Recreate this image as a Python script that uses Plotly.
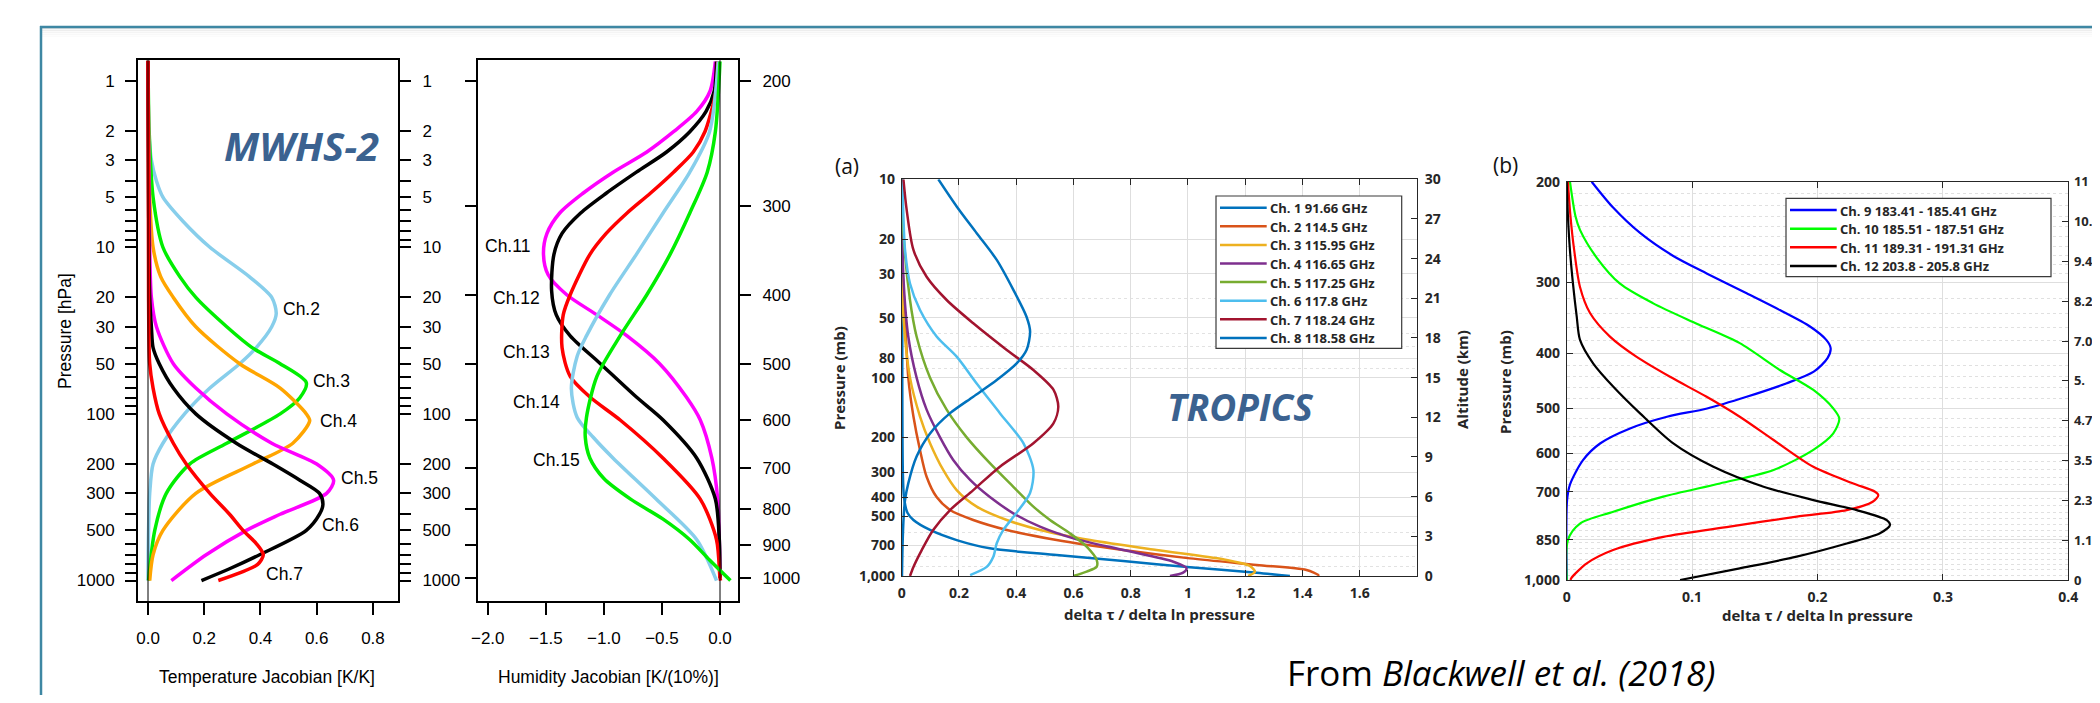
import math
import plotly.graph_objects as go

# Page geometry: the browser body keeps its default 8 px margin, so the figure
# is sized to fill the 2100x703 window exactly inside that margin.
OFF = 8
W, H = 2100 - 2 * OFF, 703 - 2 * OFF
def fx(px): return (px - OFF) / W
def fy(py): return 1 - (py - OFF) / H

# ---------------- DATA ----------------
# MWHS-2 temperature Jacobians (pressure hPa, K/K)
t_ch2_p = [0.76, 2, 3, 4, 5, 7, 10, 15, 20, 25, 30, 40, 50, 70, 100, 150, 200, 300, 500, 1000]
t_ch2_v = [0.0, 0.003, 0.012, 0.03, 0.053, 0.125, 0.22, 0.36, 0.44, 0.456, 0.44, 0.385, 0.326, 0.22, 0.13, 0.053, 0.018, 0.006, 0.002, 0.0]
t_ch3_p = [0.76, 2, 5, 10, 15, 20, 30, 40, 50, 65, 80, 100, 150, 200, 300, 500, 1000]
t_ch3_v = [0.0, 0.004, 0.018, 0.053, 0.113, 0.17, 0.28, 0.37, 0.47, 0.563, 0.54, 0.47, 0.28, 0.148, 0.065, 0.024, 0.002]
t_ch4_p = [0.76, 5, 10, 15, 20, 30, 50, 70, 100, 110, 150, 200, 300, 500, 700, 1000]
t_ch4_v = [0.0, 0.006, 0.018, 0.045, 0.09, 0.17, 0.326, 0.47, 0.563, 0.575, 0.515, 0.373, 0.17, 0.053, 0.018, 0.006]
t_ch5_p = [0.76, 10, 20, 30, 50, 70, 100, 150, 200, 250, 300, 400, 500, 700, 1000]
t_ch5_v = [0.0, 0.006, 0.012, 0.03, 0.09, 0.17, 0.28, 0.44, 0.6, 0.66, 0.635, 0.47, 0.35, 0.207, 0.083]
t_ch6_p = [0.76, 20, 30, 40, 50, 70, 100, 150, 200, 250, 300, 350, 400, 500, 700, 850, 1000]
t_ch6_v = [0.0, 0.006, 0.012, 0.018, 0.04, 0.09, 0.17, 0.314, 0.444, 0.54, 0.61, 0.622, 0.61, 0.563, 0.397, 0.29, 0.19]
t_ch7_p = [0.76, 20, 50, 70, 100, 150, 200, 300, 400, 500, 600, 700, 800, 900, 1000]
t_ch7_v = [0.0, 0.002, 0.006, 0.018, 0.04, 0.09, 0.136, 0.22, 0.29, 0.338, 0.385, 0.41, 0.39, 0.326, 0.25]

# MWHS-2 humidity Jacobians (pressure hPa, K/(10%))
h_ch11_p = [188, 207, 221, 236, 252, 269, 288, 307, 328, 351, 375, 400, 427, 457, 500, 557, 600, 679, 775, 884, 1000]
h_ch11_v = [-0.04, -0.086, -0.2, -0.4, -0.63, -0.92, -1.18, -1.38, -1.49, -1.52, -1.48, -1.32, -1.06, -0.8, -0.52, -0.29, -0.17, -0.07, -0.02, -0.006, 0.0]
h_ch12_p = [188, 207, 221, 236, 252, 269, 288, 307, 328, 351, 395, 427, 457, 500, 557, 600, 679, 775, 884, 1000]
h_ch12_v = [-0.03, -0.05, -0.12, -0.26, -0.46, -0.72, -0.98, -1.2, -1.36, -1.43, -1.45, -1.41, -1.29, -1.03, -0.72, -0.49, -0.2, -0.04, -0.006, 0.0]
h_ch13_p = [188, 207, 236, 252, 269, 288, 307, 328, 351, 400, 427, 475, 521, 557, 600, 679, 775, 884, 1000, 1009]
h_ch13_v = [-0.02, -0.035, -0.13, -0.23, -0.4, -0.6, -0.8, -0.98, -1.12, -1.29, -1.35, -1.36, -1.29, -1.12, -0.86, -0.49, -0.17, -0.03, 0.0, 0.005]
h_ch14_p = [188, 236, 269, 307, 351, 400, 457, 488, 542, 595, 635, 679, 775, 884, 1009]
h_ch14_v = [-0.015, -0.09, -0.26, -0.49, -0.72, -0.95, -1.15, -1.23, -1.28, -1.23, -1.09, -0.92, -0.55, -0.2, -0.03]
h_ch15_p = [188, 236, 269, 307, 351, 400, 457, 521, 595, 635, 679, 725, 775, 827, 884, 944, 1009]
h_ch15_v = [0.0, -0.04, -0.11, -0.26, -0.43, -0.63, -0.86, -1.06, -1.15, -1.16, -1.12, -1.0, -0.77, -0.49, -0.26, -0.09, 0.09]

# TROPICS (a) weighting functions (pressure mb, delta tau / delta ln p)
a_names = ["Ch. 1 91.66 GHz", "Ch. 2 114.5 GHz", "Ch. 3 115.95 GHz", "Ch. 4 116.65 GHz",
           "Ch. 5 117.25 GHz", "Ch. 6 117.8 GHz", "Ch. 7 118.24 GHz", "Ch. 8 118.58 GHz"]
a1_p = [10, 100, 300, 400, 480, 522, 586, 659, 725, 784, 840, 904, 962, 1000]
a1_v = [0.002, 0.002, 0.004, 0.008, 0.02, 0.041, 0.099, 0.192, 0.308, 0.541, 0.774, 1.007, 1.24, 1.356]
a2_p = [10, 30, 49, 100, 157, 232, 316, 400, 465, 522, 586, 659, 740, 815, 880, 933, 989, 1000]
a2_v = [0.0, 0.004, 0.0116, 0.023, 0.041, 0.064, 0.087, 0.122, 0.169, 0.25, 0.367, 0.541, 0.774, 1.007, 1.24, 1.414, 1.455, 1.455]
a3_p = [10, 30, 49, 100, 157, 214, 292, 369, 447, 522, 586, 659, 740, 824, 890, 950, 1000]
a3_v = [0.0, 0.003, 0.006, 0.029, 0.064, 0.099, 0.145, 0.192, 0.262, 0.367, 0.483, 0.658, 0.89, 1.123, 1.216, 1.234, 1.21]
a4_p = [10, 31, 62, 100, 145, 200, 260, 328, 400, 483, 564, 646, 740, 847, 915, 962, 1000]
a4_v = [0.0, 0.006, 0.023, 0.052, 0.087, 0.134, 0.18, 0.239, 0.308, 0.39, 0.483, 0.6, 0.774, 0.949, 0.995, 0.983, 0.937]
a5_p = [10, 18.7, 40.6, 62, 100, 145, 200, 270, 355, 447, 522, 610, 711, 830, 898, 950, 1000]
a5_v = [0.0, 0.006, 0.029, 0.052, 0.099, 0.157, 0.227, 0.308, 0.39, 0.46, 0.518, 0.588, 0.646, 0.681, 0.681, 0.646, 0.6]
a6_p = [10, 15.4, 22.7, 33.5, 45.6, 62, 78.4, 107, 151, 214, 292, 383, 483, 586, 684, 800, 900, 989]
a6_v = [0.002, 0.006, 0.0116, 0.029, 0.064, 0.122, 0.192, 0.262, 0.343, 0.425, 0.46, 0.448, 0.4, 0.355, 0.332, 0.32, 0.297, 0.239]
a7_p = [10, 14.3, 22.7, 31, 40.6, 53.2, 72.5, 91.5, 115, 140, 170, 214, 281, 369, 465, 586, 740, 900, 1000]
a7_v = [0.006, 0.0175, 0.041, 0.087, 0.157, 0.25, 0.367, 0.46, 0.53, 0.547, 0.53, 0.46, 0.343, 0.25, 0.169, 0.11, 0.07, 0.041, 0.029]
a8_p = [10, 13.7, 18.7, 25.5, 36.1, 49.3, 58.6, 72.5, 84.7, 102.8, 124.7, 151, 191, 250, 341, 414, 500, 700, 1000]
a8_v = [0.128, 0.192, 0.262, 0.332, 0.39, 0.436, 0.4485, 0.436, 0.4016, 0.332, 0.25, 0.169, 0.099, 0.052, 0.023, 0.0116, 0.007, 0.003, 0.001]

# TROPICS (b) weighting functions
b_names = ["Ch. 9 183.41 - 185.41 GHz", "Ch. 10 185.51 - 187.51 GHz",
           "Ch. 11 189.31 - 191.31 GHz", "Ch. 12 203.8 - 205.8 GHz"]
b9_p = [200, 222, 246, 270, 290, 314, 336, 359, 379, 392, 408, 431, 452, 477, 500, 517, 542, 576, 616, 680, 724, 1000]
b9_v = [0.0199, 0.037, 0.0585, 0.085, 0.112, 0.1435, 0.170, 0.194, 0.207, 0.2105, 0.208, 0.197, 0.175, 0.1435, 0.112, 0.08, 0.0505, 0.0266, 0.013, 0.0026, 0.0003, 0.0]
b10_p = [200, 230, 243, 272, 302, 327, 355, 384, 428, 464, 500, 521, 553, 591, 641, 677, 714, 759, 796, 850, 1000]
b10_v = [0.0026, 0.007, 0.0106, 0.024, 0.0425, 0.069, 0.1037, 0.138, 0.170, 0.1967, 0.2126, 0.2174, 0.2126, 0.1967, 0.165, 0.1222, 0.077, 0.0372, 0.0106, 0.001, 0.0]
b11_p = [200, 230, 264, 306, 340, 374, 406, 440, 477, 517, 568, 633, 677, 700, 710, 729, 754, 774, 806, 840, 886, 935, 990, 1000]
b11_v = [0.001, 0.003, 0.006, 0.0106, 0.0186, 0.0345, 0.0558, 0.0824, 0.1116, 0.138, 0.165, 0.1967, 0.2285, 0.2459, 0.2485, 0.244, 0.2233, 0.1834, 0.130, 0.077, 0.037, 0.016, 0.004, 0.003]
b12_p = [200, 230, 264, 302, 345, 379, 417, 458, 510, 576, 633, 686, 724, 754, 785, 801, 828, 863, 910, 954, 1000]
b12_v = [0.0, 0.001, 0.0026, 0.005, 0.008, 0.0106, 0.0212, 0.0372, 0.0585, 0.085, 0.117, 0.157, 0.1967, 0.2313, 0.2552, 0.2578, 0.2498, 0.2233, 0.1834, 0.138, 0.0904]

# Tick definitions
mw_p_ticks = [m * 10 ** e for e in range(0, 3) for m in range(1, 10)] + [1000]
mw_p_labeled = [1, 2, 3, 5, 10, 20, 30, 50, 100, 200, 300, 500, 1000]
hum_p_ticks = [200, 300, 400, 500, 600, 700, 800, 900, 1000]
t_x_ticks = [0.0, 0.2, 0.4, 0.6, 0.8]
h_x_ticks = [-2.0, -1.5, -1.0, -0.5, 0.0]
a_p_ticks = [10, 20, 30, 50, 80, 100, 200, 300, 400, 500, 700, 1000]
a_p_minor = [40, 60, 70, 90, 600, 800, 900]
a_x_ticks = [0, 0.2, 0.4, 0.6, 0.8, 1.0, 1.2, 1.4, 1.6]
a_alt_ticks = [0, 3, 6, 9, 12, 15, 18, 21, 24, 27, 30]
b_p_ticks = [200, 300, 400, 500, 600, 700, 850, 1000]
b_p_minor = [210, 220, 230, 240, 250, 260, 270, 280, 290] + \
            [p for p in range(320, 1000, 20) if p not in b_p_ticks]
b_x_ticks = [0, 0.1, 0.2, 0.3, 0.4]
b_alt_ticks = [0, 1.175, 2.35, 3.525, 4.7, 5.875, 7.05, 8.225, 9.4, 10.575, 11.75]
# the reference shows these labels truncated at the page edge
b_alt_text = ["0", "1.1", "2.3", "3.5", "4.7", "5.", "7.0", "8.2", "9.4", "10.", "11"]

# ---------------- FIGURE ----------------
fig = go.Figure()

def add(xv, yv, color, width, xa, ya):
    fig.add_trace(go.Scatter(x=xv, y=yv, mode="lines",
                             line=dict(color=color, width=width, shape="spline", smoothing=0.8),
                             xaxis=xa, yaxis=ya, showlegend=False, hoverinfo="skip"))

for v, p, c in [(t_ch2_v, t_ch2_p, "#87CEEB"), (t_ch3_v, t_ch3_p, "#00EE00"),
                (t_ch4_v, t_ch4_p, "#FFA500"), (t_ch5_v, t_ch5_p, "#FF00FF"),
                (t_ch6_v, t_ch6_p, "#000000"), (t_ch7_v, t_ch7_p, "#FF0000")]:
    add(v, p, c, 3.5, "x", "y")
for v, p, c in [(h_ch11_v, h_ch11_p, "#FF00FF"), (h_ch12_v, h_ch12_p, "#000000"),
                (h_ch13_v, h_ch13_p, "#FF0000"), (h_ch14_v, h_ch14_p, "#87CEEB"),
                (h_ch15_v, h_ch15_p, "#00EE00")]:
    add(v, p, c, 3.5, "x2", "y3")
a_cols = ["#0072BD", "#D95319", "#EDB120", "#7E2F8E", "#77AC30", "#4DBEEE", "#A2142F", "#0072BD"]
a_data = [(a1_v, a1_p), (a2_v, a2_p), (a3_v, a3_p), (a4_v, a4_p),
          (a5_v, a5_p), (a6_v, a6_p), (a7_v, a7_p), (a8_v, a8_p)]
for (v, p), c in zip(a_data, a_cols):
    add(v, p, c, 2.5, "x3", "y5")
b_cols = ["#0000FF", "#00FF00", "#FF0000", "#000000"]
b_data = [(b9_v, b9_p), (b10_v, b10_p), (b11_v, b11_p), (b12_v, b12_p)]
for (v, p), c in zip(b_data, b_cols):
    add(v, p, c, 2.2, "x4", "y7")

for xa, ya in [("x", "y2"), ("x2", "y4"), ("x3", "y6"), ("x4", "y8")]:
    fig.add_trace(go.Scatter(x=[None], y=[None], xaxis=xa, yaxis=ya, showlegend=False, hoverinfo="skip"))

R_FONT = dict(family="Liberation Sans, Arial, sans-serif", size=17, color="black")
M_FONT = dict(family="Open Sans, sans-serif", size=14, color="#262626", weight="bold")

def r_axis(**kw):
    d = dict(showline=True, linecolor="black", linewidth=2, mirror=True, ticks="outside",
             ticklen=11, tickwidth=1.5, tickcolor="black", showgrid=False, zeroline=False,
             tickfont=R_FONT, automargin=False)
    d.update(kw)
    return d

def m_axis(**kw):
    d = dict(showline=True, linecolor="#262626", linewidth=1, ticks="inside", ticklen=6,
             tickwidth=1, tickcolor="#262626", showgrid=True, gridcolor="#DEDEDE", gridwidth=1,
             zeroline=False, tickfont=M_FONT, automargin=False)
    d.update(kw)
    return d

mw_text = [str(v) if v in mw_p_labeled else "" for v in mw_p_ticks]
t_dom_y = [fy(601), fy(60.2)]
t_range = [math.log10(1327), math.log10(0.754)]
h_range = [3.0326, 2.27235]

layout = dict(
    width=W, height=H, margin=dict(l=0, r=0, t=0, b=0, autoexpand=False),
    paper_bgcolor="white", plot_bgcolor="white", showlegend=False,
    xaxis=r_axis(domain=[fx(138), fx(398)], anchor="y", range=[-0.0356, 0.889],
                 tickmode="array", tickvals=t_x_ticks, ticktext=["%.1f" % v for v in t_x_ticks],
                 ticklen=12, ticklabelstandoff=9),
    yaxis=r_axis(domain=t_dom_y, anchor="x", type="log", range=t_range,
                 tickmode="array", tickvals=mw_p_ticks, ticktext=mw_text, ticklabelstandoff=7),
    yaxis2=r_axis(domain=t_dom_y, anchor="x", overlaying="y", side="right", type="log", range=t_range,
                  tickmode="array", tickvals=mw_p_ticks, ticktext=mw_text, ticklabelstandoff=8),
    xaxis2=r_axis(domain=[fx(478), fx(738)], anchor="y3", range=[-2.084, 0.155],
                  tickmode="array", tickvals=h_x_ticks,
                  ticktext=[("%.1f" % v).replace("-", "\u2212") for v in h_x_ticks],
                  ticklen=12, ticklabelstandoff=9),
    yaxis3=r_axis(domain=t_dom_y, anchor="x2", type="log", range=h_range,
                  tickmode="array", tickvals=hum_p_ticks, showticklabels=False),
    yaxis4=r_axis(domain=t_dom_y, anchor="x2", overlaying="y3", side="right", type="log", range=h_range,
                  tickmode="array", tickvals=hum_p_ticks, ticktext=[str(v) for v in hum_p_ticks],
                  ticklabelstandoff=8),
    xaxis3=m_axis(domain=[fx(901.7), fx(1417)], anchor="y5", range=[0, 1.8], mirror="ticks",
                  tickmode="array", tickvals=a_x_ticks,
                  ticktext=["0", "0.2", "0.4", "0.6", "0.8", "1", "1.2", "1.4", "1.6"],
                  ticklabelstandoff=4),
    yaxis5=m_axis(domain=[fy(576), fy(179.3)], anchor="x3", type="log", range=[3, 1], mirror=True,
                  tickmode="array", tickvals=a_p_ticks,
                  ticktext=[("{:,}".format(v)) for v in a_p_ticks],
                  minor=dict(tickmode="array", tickvals=a_p_minor, showgrid=True,
                             gridcolor="#E2E2E2", griddash="dot", ticks=""),
                  ticklabelstandoff=3),
    yaxis6=m_axis(domain=[fy(576), fy(179.3)], anchor="x3", overlaying="y5", side="right",
                  range=[0, 30], showgrid=False, tickmode="array", tickvals=a_alt_ticks,
                  ticktext=[str(v) for v in a_alt_ticks], ticklabelstandoff=4),
    xaxis4=m_axis(domain=[fx(1566.7), fx(2068.3)], anchor="y7", range=[0, 0.4], mirror="ticks",
                  tickmode="array", tickvals=b_x_ticks,
                  ticktext=["0", "0.1", "0.2", "0.3", "0.4"], ticklabelstandoff=4),
    yaxis7=m_axis(domain=[fy(580), fy(181.7)], anchor="x4", type="log", range=[3, math.log10(200)],
                  mirror=True, tickmode="array", tickvals=b_p_ticks,
                  ticktext=[("{:,}".format(v)) for v in b_p_ticks],
                  minor=dict(tickmode="array", tickvals=b_p_minor, showgrid=True,
                             gridcolor="#E0E0E0", griddash="dot", ticks=""),
                  ticklabelstandoff=3),
    yaxis8=m_axis(domain=[fy(580), fy(181.7)], anchor="x4", overlaying="y7", side="right",
                  range=[0, 11.75], showgrid=False, tickmode="array", tickvals=b_alt_ticks,
                  ticktext=b_alt_text, ticklabelstandoff=2, ticklabeloverflow="allow",
                  tickfont=dict(family="Open Sans, sans-serif", size=13, color="#262626", weight="bold")),
)
fig.update_layout(**layout)

# ---------------- SHAPES ----------------
shapes = []
for i, a in enumerate([0.14, 0.09, 0.06, 0.035, 0.018]):
    shapes.append(dict(type="rect", xref="paper", yref="paper", x0=fx(42), x1=1.0,
                       y0=fy(29 + 2 * i), y1=fy(27.5 + 2 * i), line=dict(width=0),
                       fillcolor="rgba(60,60,60,%.3f)" % a, layer="below"))
shapes.append(dict(type="line", xref="paper", yref="paper", x0=fx(40), x1=1.0, y0=fy(27), y1=fy(27),
                   line=dict(color="#3E87A3", width=2.5)))
shapes.append(dict(type="line", xref="paper", yref="paper", x0=fx(41), x1=fx(41), y0=fy(26), y1=0,
                   line=dict(color="#3E87A3", width=2.5)))
shapes.append(dict(type="line", xref="x", yref="y domain", x0=0, x1=0, y0=0, y1=1,
                   line=dict(color="black", width=1)))
shapes.append(dict(type="line", xref="x2", yref="y3 domain", x0=0, x1=0, y0=0, y1=1,
                   line=dict(color="black", width=1)))

anns = []
def pann(text, px, py, font, angle=0, xanchor="center"):
    anns.append(dict(text=text, x=fx(px), y=fy(py), xref="paper", yref="paper", showarrow=False,
                     xanchor=xanchor, yanchor="middle", textangle=angle, font=font))

LEG_FONT = dict(family="Open Sans, sans-serif", size=13, color="#262626", weight="bold")
def legend_box(x0, y0, x1, y1, row0, dy, names, cols, sx0, sx1, tx):
    shapes.append(dict(type="rect", xref="paper", yref="paper", x0=fx(x0), x1=fx(x1),
                       y0=fy(y1), y1=fy(y0), fillcolor="white", line=dict(color="#3A3A3A", width=1.2)))
    for i, (n, c) in enumerate(zip(names, cols)):
        yy = row0 + dy * i
        shapes.append(dict(type="line", xref="paper", yref="paper", x0=fx(sx0), x1=fx(sx1),
                           y0=fy(yy), y1=fy(yy), line=dict(color=c, width=2.5)))
        pann(n, tx, yy + 0.5, LEG_FONT, xanchor="left")

legend_box(1216, 196, 1401.7, 348.3, 207.7, 18.6, a_names, a_cols, 1220, 1266.7, 1267.5)
legend_box(1786, 198.3, 2051, 276.7, 210, 18.65, b_names, b_cols, 1790, 1836.7, 1837.5)
fig.update_layout(shapes=shapes)

RT = dict(family="Liberation Sans, Arial, sans-serif", size=17.5, color="black")
MT = dict(family="Open Sans, sans-serif", size=15, color="#262626", weight="bold")
pann("Pressure [hPa]", 65, 331, RT, angle=-90)
pann("Temperature Jacobian [K/K]", 267, 676.5, RT)
pann("Humidity Jacobian [K/(10%)]", 608, 676.5, RT)
pann("<b><i>MWHS-2</i></b>", 301, 145, dict(family="Open Sans, sans-serif", size=40, color="#3B6290"))
pann("<b><i>TROPICS</i></b>", 1240, 406, dict(family="Open Sans, sans-serif", size=37, color="#3B6290"))
pann("(a)", 847, 166, dict(family="Open Sans, sans-serif", size=21, color="#111111"))
pann("(b)", 1505, 165, dict(family="Open Sans, sans-serif", size=21, color="#111111"))
pann("Pressure (mb)", 839, 378, MT, angle=-90)
pann("Altitude (km)", 1462, 380, MT, angle=-90)
pann("Pressure (mb)", 1505, 382, MT, angle=-90)
pann("delta \u03c4 / delta ln pressure", 1159, 614, MT)
pann("delta \u03c4 / delta ln pressure", 1817, 615, MT)
pann("From <i>Blackwell et al. (2018)</i>", 1501, 672.5, dict(family="Open Sans, sans-serif", size=35, color="black"))

t_labels = [("Ch.2", 0.474, 23.5), ("Ch.3", 0.581, 63.8), ("Ch.4", 0.604, 111),
            ("Ch.5", 0.679, 244), ("Ch.6", 0.610, 467), ("Ch.7", 0.411, 908)]
for txt, xv, pv in t_labels:
    anns.append(dict(text=txt, x=xv, y=math.log10(pv), xref="x", yref="y", showarrow=False,
                     xanchor="left", yanchor="middle", font=RT))
h_labels = [("Ch.11", -1.621, 341.6), ("Ch.12", -1.535, 404), ("Ch.13", -1.449, 482),
            ("Ch.14", -1.363, 566), ("Ch.15", -1.191, 684)]
for txt, xv, pv in h_labels:
    anns.append(dict(text=txt, x=xv, y=math.log10(pv), xref="x2", yref="y3", showarrow=False,
                     xanchor="right", yanchor="middle", font=RT))
fig.update_layout(annotations=anns)

fig.write_html("out.html", config={"displayModeBar": False})
